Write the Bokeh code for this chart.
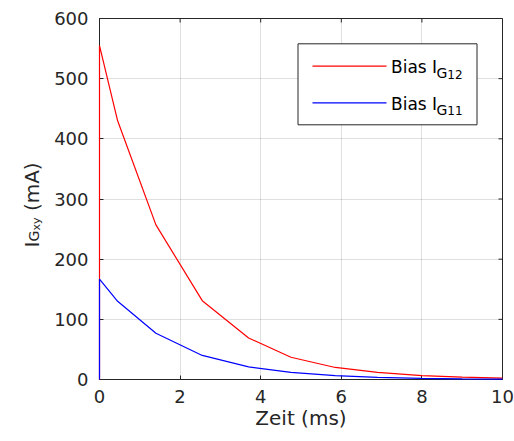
import math
from bokeh.plotting import figure
from bokeh.layouts import row
from bokeh.models import Range1d, FixedTicker, Label, BoxAnnotation, Arrow
from bokeh.embed import file_html
from bokeh.resources import INLINE

# ---- data ----
t_ms = [0, 0, 0.45, 1.4, 2.55, 3.7, 4.75, 5.85, 6.9, 8.0, 9.0, 10.0]
bias_g12 = [0, 555, 430, 257, 131, 69, 37, 20, 12, 6.6, 3.8, 2.2]
bias_g11 = [0, 167, 130, 77, 40, 21, 12, 6.3, 3.6, 2.0, 1.1, 0.6]
x_ticks = [0, 2, 4, 6, 8, 10]
y_ticks = [0, 100, 200, 300, 400, 500, 600]
x_label = "Zeit (ms)"
y_label_parts = ("I", "G", "xy", "(mA)")
legend_entries = [("Bias I", "G", "12", "red"), ("Bias I", "G", "11", "blue")]

X0, X1 = 0, 10
Y0, Y1 = 0, 600

FONT = "DejaVu Sans"
AX = "#262626"

W, H = 514, 441
LW = 45
FL, FT, FW, FH = 99, 18, 403, 361
FB = H - FT - FH


def dx(px):
    return X0 + (px - FL) / FW * (X1 - X0)


def dy(py):
    return Y1 - (py - FT) / FH * (Y1 - Y0)


# strip carrying the rotated y-axis title; its frame spans the same rows as the main frame
s = figure(width=LW, height=H, output_backend="svg", toolbar_location=None,
           x_range=Range1d(0, LW), y_range=Range1d(H - (FT + FH), H - FT),
           x_axis_type=None, y_axis_type=None,
           min_border_left=0, min_border_right=0, min_border_top=FT, min_border_bottom=FB)
s.outline_line_color = None
s.grid.visible = False
s.background_fill_color = "white"
s.border_fill_color = "white"

ang = math.pi / 2
ylab = [
    (y_label_parts[0], 20, 31.7, 247.0),
    (y_label_parts[1], 14, 33.5, 241.0),
    (y_label_parts[2], 11, 35.5, 230.0),
    (y_label_parts[3], 20, 31.7, 210.6),
]
for txt, fs, bx, by in ylab:
    s.add_layout(Label(x=bx, y=H - by, text=txt, angle=ang,
                       text_font=FONT, text_font_size=f"{fs}px", text_color=AX,
                       text_align="left", text_baseline="alphabetic"))

p = figure(width=W - LW, height=H, output_backend="svg", toolbar_location=None,
           x_range=Range1d(X0, X1), y_range=Range1d(Y0, Y1),
           min_border_left=FL - LW, min_border_top=FT,
           min_border_right=W - FL - FW, min_border_bottom=FB)
p.background_fill_color = "white"
p.border_fill_color = "white"
p.outline_line_color = AX
p.outline_line_width = 1

for ax in (p.xaxis[0], p.yaxis[0]):
    ax.axis_line_color = AX
    ax.major_tick_line_color = AX
    ax.major_tick_in = 4
    ax.major_tick_out = 0
    ax.minor_tick_line_color = None
    ax.major_label_text_font = FONT
    ax.major_label_text_font_size = "18px"
    ax.major_label_text_color = AX
p.xaxis[0].ticker = FixedTicker(ticks=x_ticks)
p.yaxis[0].ticker = FixedTicker(ticks=y_ticks)
p.xaxis[0].major_label_standoff = 10
p.yaxis[0].major_label_standoff = 11
p.xaxis[0].axis_label = x_label
p.xaxis[0].axis_label_text_font = FONT
p.xaxis[0].axis_label_text_font_size = "20px"
p.xaxis[0].axis_label_text_font_style = "normal"
p.xaxis[0].axis_label_text_color = AX
p.xaxis[0].axis_label_standoff = 0

p.xgrid.ticker = FixedTicker(ticks=x_ticks)
p.ygrid.ticker = FixedTicker(ticks=y_ticks)
p.grid.grid_line_color = AX
p.grid.grid_line_alpha = 0.15

tlx = 4 / FW * (X1 - X0)
tly = 4 / FH * (Y1 - Y0)
for t in x_ticks:
    p.add_layout(Arrow(end=None, x_start=t, x_end=t, y_start=Y1, y_end=Y1 - tly,
                       line_color=AX, line_width=1))
for t in y_ticks:
    p.add_layout(Arrow(end=None, x_start=X1, x_end=X1 - tlx, y_start=t, y_end=t,
                       line_color=AX, line_width=1))

# drawn above the axes so the vertical rise at t=0 shows over the left axis line
p.line(t_ms, bias_g12, line_color="red", line_width=1.2, level="overlay")
p.line(t_ms, bias_g11, line_color="blue", line_width=1.2, level="overlay")

p.add_layout(BoxAnnotation(left=dx(297.5), right=dx(476.5), top=dy(43.3), bottom=dy(124.3),
                           fill_color="white", fill_alpha=1.0, line_color=AX, line_width=1,
                           line_alpha=1.0))
rows = [(65.7, 66.7, 72.5, 73.5), (102.3, 103.3, 109.0, 109.7)]
for (main, sub1, sub2, col), (ly, b0, b1, b2) in zip(legend_entries, rows):
    p.add_layout(Arrow(end=None, x_start=dx(312), x_end=dx(386), y_start=dy(ly), y_end=dy(ly),
                       line_color=col, line_width=1.2))
    p.add_layout(Label(x=dx(390.5), y=dy(b0), text=main, text_font=FONT, text_font_size="17px",
                       text_color="black", text_baseline="alphabetic"))
    p.add_layout(Label(x=dx(436.0), y=dy(b1), text=sub1, text_font=FONT, text_font_size="14px",
                       text_color="black", text_baseline="alphabetic"))
    p.add_layout(Label(x=dx(446.8), y=dy(b2), text=sub2, text_font=FONT, text_font_size="12px",
                       text_color="black", text_baseline="alphabetic"))

layout = row(s, p)
open("out.html", "w").write(file_html(layout, INLINE))
